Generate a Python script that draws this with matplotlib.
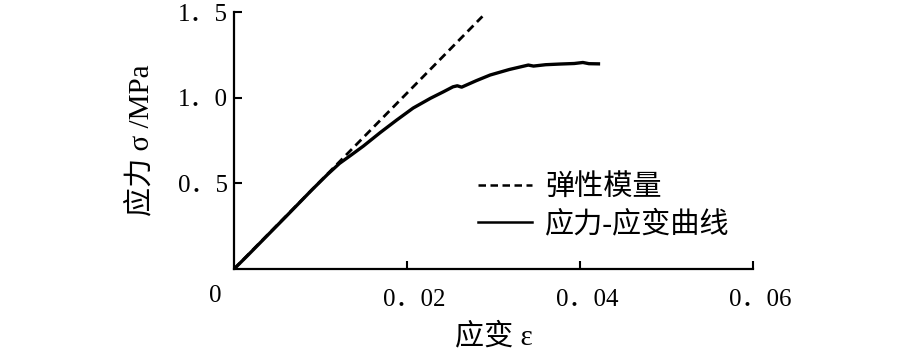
import numpy as np
import matplotlib
matplotlib.use("Agg")
import matplotlib.pyplot as plt
from matplotlib.transforms import ScaledTranslation

plt.rcParams['font.family'] = ['Liberation Serif', 'Noto Sans CJK SC', 'DejaVu Sans']

# stress-strain curve
strain = [0.0, 0.0015, 0.003, 0.006, 0.009, 0.0108, 0.0122, 0.0136, 0.01495,
          0.0169, 0.0188, 0.0207, 0.0227, 0.0242, 0.0253, 0.0258, 0.0263, 0.028,
          0.0296, 0.0318, 0.034, 0.0346, 0.036, 0.0377, 0.0393, 0.0403, 0.041, 0.0421]
stress = [0.0, 0.075, 0.152, 0.306, 0.462, 0.552, 0.617, 0.668, 0.718,
          0.797, 0.870, 0.94, 0.997, 1.035, 1.064, 1.070, 1.062, 1.100,
          1.133, 1.165, 1.191, 1.185, 1.193, 1.197, 1.200, 1.206, 1.199, 1.198]

# elastic modulus line
modulus_x = [0.0, 0.0287]
modulus_y = [0.0, 1.475]

xticks = [0.02, 0.04, 0.06]
xticklabels = ['0．02', '0．04', '0．06']
yticks = [0.5, 1.0, 1.5]
yticklabels = ['0．5', '1．0', '1．5']

fig = plt.figure(figsize=(9.1, 3.56), dpi=100)
ax = fig.add_axes([0.257, 0.244, 0.571, 0.722])

ax.plot(modulus_x, modulus_y, 'k--', lw=2.0, dashes=(3, 1.8), label='弹性模量')
ax.plot(strain, stress, 'k-', lw=2.4, label='应力-应变曲线')

ax.set_xlim(0, 0.06)
ax.set_ylim(0, 1.5)
ax.set_xticks(xticks)
ax.set_xticklabels(xticklabels, fontsize=18)
ax.set_yticks(yticks)
ax.set_yticklabels(yticklabels, fontsize=18)
ax.tick_params(axis='both', direction='in', length=6, width=1.5)
ax.tick_params(axis='x', pad=14)
ax.tick_params(axis='y', pad=4)
shift = ScaledTranslation(7 / 100, 0, fig.dpi_scale_trans)
for lab in ax.get_xticklabels():
    lab.set_transform(lab.get_transform() + shift)
for s in ['top', 'right']:
    ax.spines[s].set_visible(False)
for s in ['left', 'bottom']:
    ax.spines[s].set_linewidth(1.6)

# shared origin label
ax.text(-0.0022, -0.09, '0', fontsize=18, ha='center', va='top')

ax.set_xlabel('应变 ε', fontsize=21, labelpad=9)
ax.set_ylabel('应力 σ /MPa', fontsize=21, labelpad=17)

leg = ax.legend(loc='lower right', bbox_to_anchor=(1.005, 0.018), frameon=False,
                fontsize=21, handlelength=1.85, handletextpad=0.45, labelspacing=0.32)
for line in leg.get_lines():
    line.set_linewidth(1.8)

fig.savefig('out.png', dpi=100)
